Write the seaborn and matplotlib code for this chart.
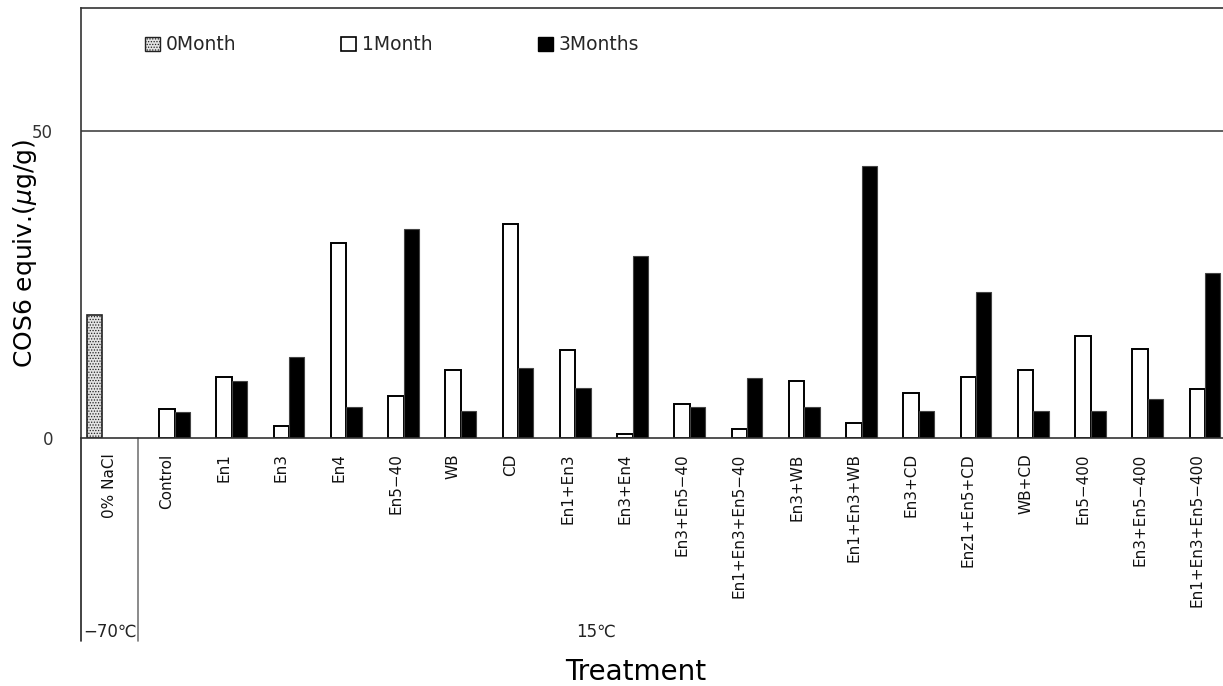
import numpy as np
import pandas as pd
import matplotlib
matplotlib.use('Agg')
import matplotlib.pyplot as plt
import matplotlib.transforms as mtransforms
from matplotlib.patches import Patch
import seaborn as sns

treatments = ['0% NaCl', 'Control', 'En1', 'En3', 'En4', 'En5\u221240', 'WB', 'CD',
              'En1+En3', 'En3+En4', 'En3+En5\u221240', 'En1+En3+En5\u221240',
              'En3+WB', 'En1+En3+WB', 'En3+CD', 'Enz1+En5+CD', 'WB+CD',
              'En5\u2212400', 'En3+En5\u2212400', 'En1+En3+En5\u2212400']
periods = ['0Month', '1Month', '3Months']

month0 = [20.0, None, None, None, None, None, None, None, None, None,
          None, None, None, None, None, None, None, None, None, None]
month1 = [None, 4.7, 10.0, 2.0, 31.7, 6.8, 11.0, 34.9, 14.4, 0.7,
          5.5, 1.5, 9.2, 2.5, 7.3, 9.9, 11.0, 16.6, 14.5, 7.9]
month3 = [None, 4.2, 9.2, 13.2, 5.0, 34.1, 4.4, 11.4, 8.2, 29.6,
          5.0, 9.7, 5.0, 44.2, 4.4, 23.8, 4.4, 4.4, 6.3, 26.9]

rows = []
for name, vals in zip(periods, [month0, month1, month3]):
    for t, v in zip(treatments, vals):
        rows.append({'treatment': t, 'period': name,
                     'value': np.nan if v is None else v})
df = pd.DataFrame(rows)

sns.set_style('white')
plt.rcParams['font.family'] = ['DejaVu Sans']
plt.rcParams['hatch.linewidth'] = 0.6
plt.rcParams['hatch.color'] = '#888888'

W, H = 1223, 686
fig = plt.figure(figsize=(W / 100, H / 100), dpi=100)
ax = fig.add_axes([81 / W, 1 - 438 / H, (1226 - 81) / W, (438 - 8) / H])

colors = {'0Month': '#d9d9d9', '1Month': 'white', '3Months': 'black'}
sns.barplot(data=df, x='treatment', y='value', hue='period', order=treatments,
            hue_order=periods, palette=colors, saturation=1, width=0.8,
            dodge=True, legend=False, ax=ax)

styles = {
    '0Month': dict(facecolor='#e4e4e4', edgecolor='#222222', hatch='......', lw=1.2),
    '1Month': dict(facecolor='white', edgecolor='black', hatch=None, lw=1.4),
    '3Months': dict(facecolor='black', edgecolor='#444444', hatch=None, lw=0.8),
}
for cont, name in zip(ax.containers, periods):
    for bar in cont:
        st = styles[name]
        bar.set_facecolor(st['facecolor'])
        bar.set_edgecolor(st['edgecolor'])
        bar.set_linewidth(st['lw'])
        if st['hatch']:
            bar.set_hatch(st['hatch'])

ax.set_xlim(-0.5, len(treatments) - 0.5)
ax.set_ylim(0, 70)
ax.set_yticks([0, 50])
ax.axhline(50, color='#444444', lw=1.2, zorder=0)
ax.tick_params(axis='y', length=0, pad=20, labelsize=12, labelcolor='#333333')
ax.tick_params(axis='x', length=0, pad=11, labelsize=11, labelcolor='#111111')
plt.setp(ax.get_xticklabels(), rotation=90, va='top', ha='center')
ax.set_xlabel('')
ax.set_ylabel('')

for side in ['top', 'left', 'bottom']:
    ax.spines[side].set_color('#333333')
    ax.spines[side].set_linewidth(1.2)
ax.spines['right'].set_visible(False)

# group separators below the axis
trans = mtransforms.blended_transform_factory(ax.transData, ax.transAxes)
ax.plot([-0.5, -0.5], [0, -0.472], transform=trans, color='#222222', lw=1.2,
        clip_on=False)
ax.plot([0.5, 0.5], [0, -0.472], transform=trans, color='#777777', lw=1.2,
        clip_on=False)

fig.text(110 / W, 1 - 632 / H, '\u221270\u2103', ha='center', va='center',
         fontsize=12, color='#222222')
fig.text(596 / W, 1 - 632 / H, '15\u2103', ha='center', va='center',
         fontsize=12, color='#222222')

fig.text(636 / W, 1 - 672 / H, 'Treatment', ha='center', va='center',
         fontsize=20, color='black')
fig.text(25 / W, 1 - 253 / H, r'COS6 equiv.($\mu$g/g)', rotation=90,
         ha='center', va='center', fontsize=18, color='black')

handles = [Patch(facecolor='#e4e4e4', edgecolor='#222222', hatch='......', lw=1.0),
           Patch(facecolor='white', edgecolor='black', lw=1.2),
           Patch(facecolor='black', edgecolor='black', lw=1.0)]
ax.legend(handles, periods, loc='center left', ncol=3, frameon=False,
          bbox_to_anchor=(145 / W, 1 - 45 / H), bbox_transform=fig.transFigure,
          fontsize=13.5, handlelength=0.8, handleheight=0.8, handletextpad=0.3,
          columnspacing=5.6, borderpad=0, borderaxespad=0)

fig.savefig('out.png', dpi=100)
